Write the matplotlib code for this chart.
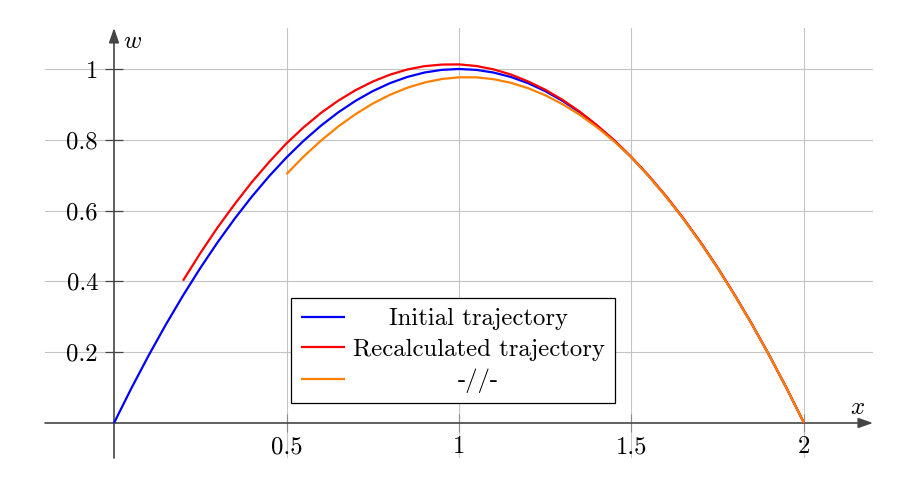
import matplotlib
matplotlib.use("Agg")
import matplotlib.pyplot as plt

plt.rcParams['font.family'] = ['cmr10', 'DejaVu Serif']
plt.rcParams['mathtext.fontset'] = 'cm'
plt.rcParams['axes.formatter.use_mathtext'] = True

# ---- data ----
x_initial = [0.0, 0.05, 0.1, 0.15, 0.2, 0.25, 0.3, 0.35, 0.4, 0.45, 0.5, 0.55, 0.6, 0.65,
             0.7, 0.75, 0.8, 0.85, 0.9, 0.95, 1.0, 1.05, 1.1, 1.15, 1.2, 1.25, 1.3, 1.35,
             1.4, 1.45, 1.5, 1.55, 1.6, 1.65, 1.7, 1.75, 1.8, 1.85, 1.9, 1.95, 2.0]
w_initial = [0.0, 0.0975, 0.19, 0.2775, 0.36, 0.4375, 0.51, 0.5775, 0.64, 0.6975, 0.75,
             0.7975, 0.84, 0.8775, 0.91, 0.9375, 0.96, 0.9775, 0.99, 0.9975, 1.0, 0.9975,
             0.99, 0.9775, 0.96, 0.9375, 0.91, 0.8775, 0.84, 0.7975, 0.75, 0.6975, 0.64,
             0.5775, 0.51, 0.4375, 0.36, 0.2775, 0.19, 0.0975, 0.0]

x_recalc = [0.2, 0.25, 0.3, 0.35, 0.4, 0.45, 0.5, 0.55, 0.6, 0.65, 0.7, 0.75, 0.8, 0.85,
            0.9, 0.95, 1.0, 1.05, 1.1, 1.15, 1.2, 1.25, 1.3, 1.35, 1.4, 1.45, 1.5, 1.55,
            1.6, 1.65, 1.7, 1.75, 1.8, 1.85, 1.9, 1.95, 2.0]
w_recalc = [0.402, 0.4795, 0.552, 0.6185, 0.681, 0.7375, 0.790, 0.8355, 0.876, 0.9105,
            0.940, 0.9645, 0.984, 0.9985, 1.008, 1.0125, 1.013, 1.0085, 0.999, 0.9845,
            0.965, 0.9415, 0.913, 0.8795, 0.841, 0.7985, 0.751, 0.6985, 0.641, 0.5785,
            0.511, 0.4385, 0.360, 0.2775, 0.19, 0.0975, 0.0]

x_recalc2 = [0.5, 0.55, 0.6, 0.65, 0.7, 0.75, 0.8, 0.85, 0.9, 0.95, 1.0, 1.05, 1.1, 1.15,
             1.2, 1.25, 1.3, 1.35, 1.4, 1.45, 1.5, 1.55, 1.6, 1.65, 1.7, 1.75, 1.8, 1.85,
             1.9, 1.95, 2.0]
w_recalc2 = [0.703, 0.7529, 0.7977, 0.8376, 0.8724, 0.9023, 0.9271, 0.9470, 0.9618, 0.9717,
             0.9765, 0.9764, 0.9712, 0.9611, 0.9459, 0.9258, 0.9006, 0.8705, 0.8353, 0.7952,
             0.75, 0.697, 0.639, 0.577, 0.509, 0.437, 0.359, 0.277, 0.19, 0.0975, 0.0]

series_labels = ['Initial trajectory', 'Recalculated trajectory', '-//-']
series_colors = ['#0000ff', '#ff0000', '#ff8000']

x_ticks = [0.5, 1, 1.5, 2]
x_tick_labels = ['0.5', '1', '1.5', '2']
y_ticks = [0.2, 0.4, 0.6, 0.8, 1.0]
y_tick_labels = ['0.2', '0.4', '0.6', '0.8', '1']

FS = 17.8

fig = plt.figure(figsize=(9.1, 4.78), dpi=100)
ax = fig.add_axes([45 / 910, 20 / 478, 828 / 910, 430 / 478])
ax.set_xlim(-0.2, 2.2)
ax.set_ylim(-0.0989, 1.1158)

for s in ax.spines.values():
    s.set_visible(False)
ax.spines['left'].set_position(('data', 0))
ax.spines['bottom'].set_position(('data', 0))

axis_color = '#454545'
arrow_kw = dict(arrowstyle='-|>,head_length=0.8,head_width=0.28', lw=1.2,
                mutation_scale=11, shrinkA=0, shrinkB=0)
ax.annotate('', xy=(1, 0), xycoords=('axes fraction', 'data'),
            xytext=(0, 0), textcoords=('axes fraction', 'data'),
            arrowprops=dict(arrow_kw, color=axis_color))
ax.annotate('', xy=(0, 1), xycoords=('data', 'axes fraction'),
            xytext=(0, 0), textcoords=('data', 'axes fraction'),
            arrowprops=dict(arrow_kw, color=axis_color))

ax.set_xticks(x_ticks)
ax.set_xticklabels(x_tick_labels, fontsize=FS)
ax.set_yticks(y_ticks)
ax.set_yticklabels(y_tick_labels, fontsize=FS)
ax.tick_params(direction='inout', length=13, width=0.9)
ax.tick_params(axis='y', pad=5, color=axis_color)
ax.tick_params(axis='x', pad=3, color='#8c8c8c', width=0.8)

ax.grid(True, color='#c4c4c4', lw=0.8)
ax.set_axisbelow(True)

lines = []
for xs, ws, lab, col in zip([x_initial, x_recalc, x_recalc2],
                            [w_initial, w_recalc, w_recalc2],
                            series_labels, series_colors):
    ln, = ax.plot(xs, ws, color=col, lw=1.6, label=lab, solid_capstyle='butt', zorder=3)
    lines.append(ln)

ax.text(0.025, 1.076, '$w$', fontsize=FS, ha='left', va='center')
ax.text(2.154, 0.042, '$x$', fontsize=FS, ha='center', va='center')

leg = ax.legend(handles=lines, loc='upper left',
                bbox_to_anchor=(291 / 910, 1 - 298 / 478), bbox_transform=fig.transFigure,
                borderaxespad=0, fontsize=FS, frameon=True, fancybox=False,
                edgecolor='black', framealpha=1, handlelength=1.8, handletextpad=0.3,
                labelspacing=0.33, borderpad=0.4)
leg.get_frame().set_linewidth(0.9)

fig.canvas.draw()
renderer = fig.canvas.get_renderer()
widths = [t.get_window_extent(renderer).width for t in leg.get_texts()]
wmax = max(widths)
for t, w in zip(leg.get_texts(), widths):
    t.set_x((wmax - w) / 2)

fig.savefig('out.png', dpi=100)
